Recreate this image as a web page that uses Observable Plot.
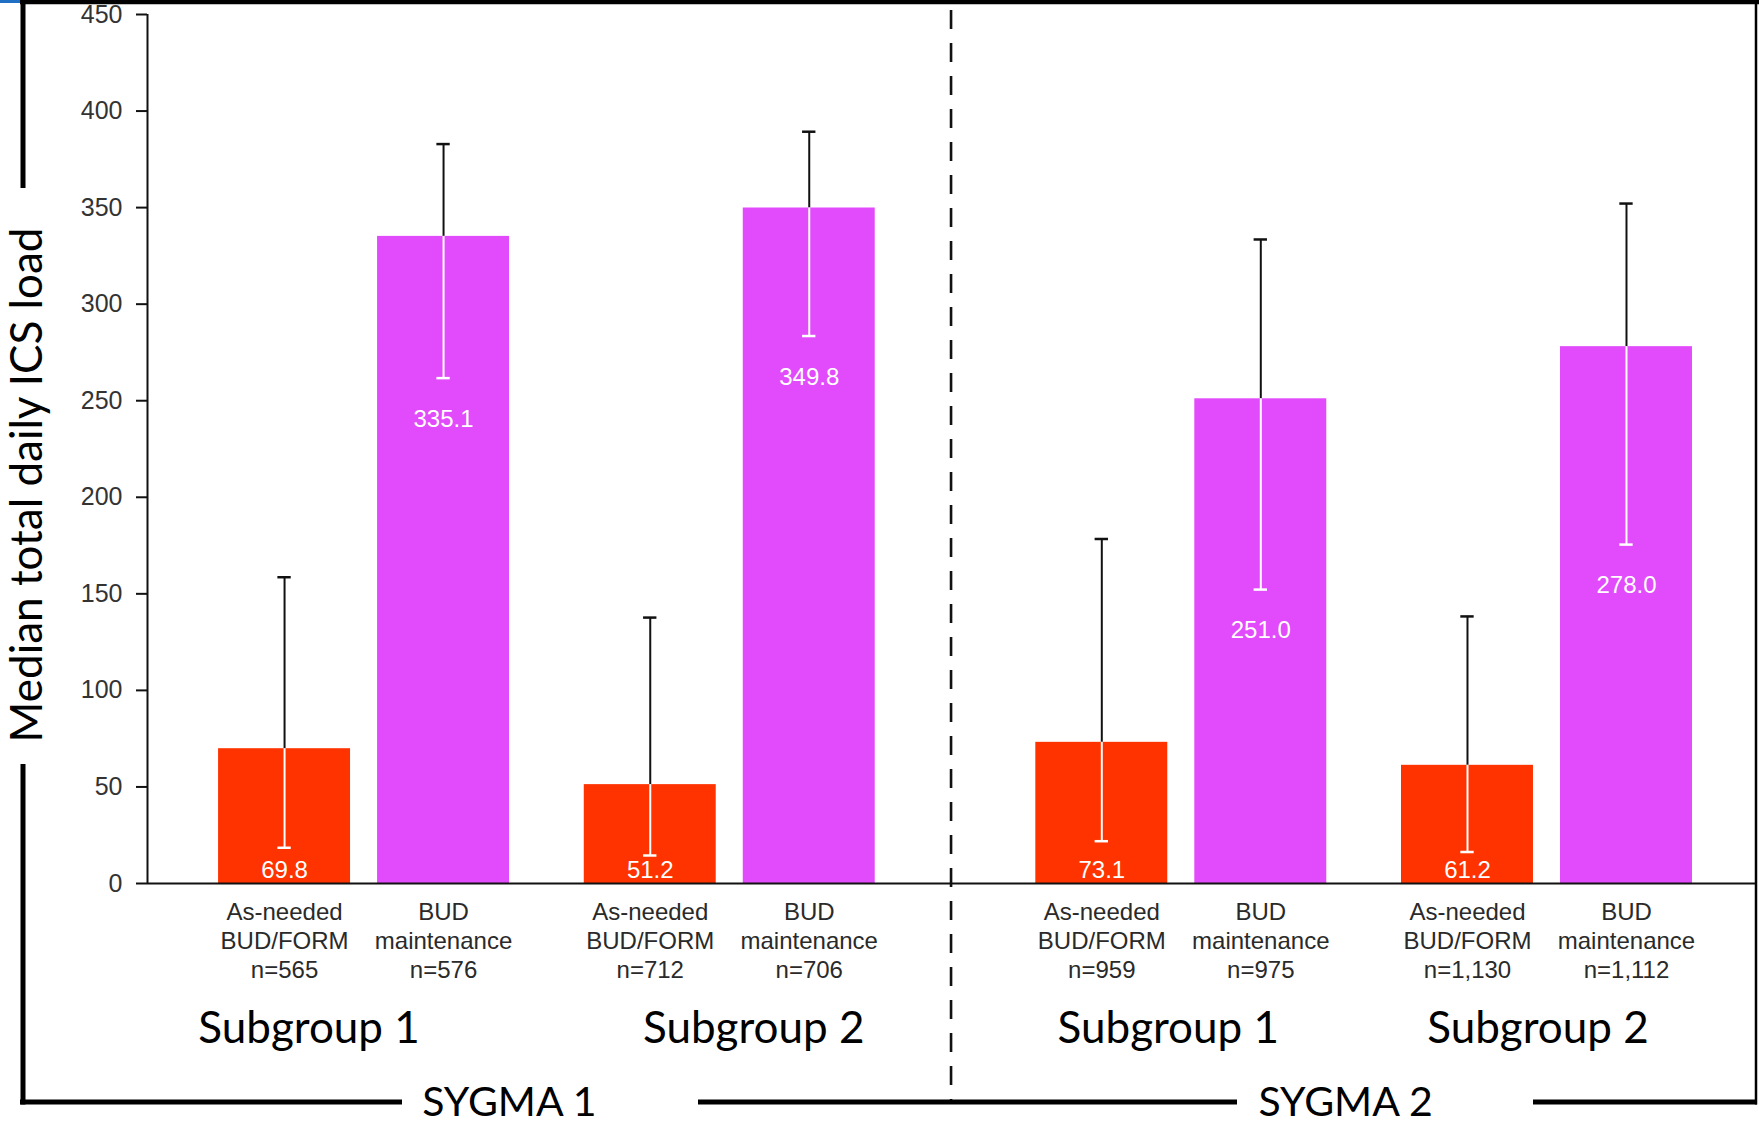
<!DOCTYPE html>
<html>
<head>
<meta charset="utf-8">
<script src="https://cdn.jsdelivr.net/npm/d3@7"></script>
<script src="https://cdn.jsdelivr.net/npm/@observablehq/plot@0.6"></script>
<style>
  html, body { margin: 0; padding: 0; background: #fff; }
  #chart svg { display: block; }
</style>
</head>
<body>
<div id="chart"></div>
<script>
// ---------- data ----------
const categoryLabels = [
  "As-needed\nBUD/FORM\nn=565", "BUD\nmaintenance\nn=576",
  "As-needed\nBUD/FORM\nn=712", "BUD\nmaintenance\nn=706",
  "As-needed\nBUD/FORM\nn=959", "BUD\nmaintenance\nn=975",
  "As-needed\nBUD/FORM\nn=1,130", "BUD\nmaintenance\nn=1,112"
];
const treatments = ["As-needed BUD/FORM", "BUD maintenance"];
const treatmentOf = ["As-needed BUD/FORM", "BUD maintenance", "As-needed BUD/FORM", "BUD maintenance",
                     "As-needed BUD/FORM", "BUD maintenance", "As-needed BUD/FORM", "BUD maintenance"];
const values = [69.8, 335.1, 51.2, 349.8, 73.1, 251.0, 61.2, 278.0];
const upper  = [158.6, 382.9, 137.7, 389.3, 178.4, 333.5, 138.3, 352.1];
const lower  = [18.5, 261.7, 14.5, 283.5, 21.9, 152.2, 16.3, 175.5];
const subgroupLabels = ["Subgroup 1", "Subgroup 2", "Subgroup 1", "Subgroup 2"];
const studyLabels = ["SYGMA 1", "SYGMA 2"];
const yTicks = [0, 50, 100, 150, 200, 250, 300, 350, 400, 450];
const yTitle = "Median total daily ICS load";

// ---------- layout (structure-derived positions) ----------
const gapPair = 0.30, gapStudy = 0.84, halfBar = 0.415, capHalf = 0.042;
const pos = categoryLabels.map((_, i) => i + Math.floor(i / 2) * gapPair + Math.floor(i / 4) * (gapStudy - gapPair));
const data = categoryLabels.map((c, i) => ({
  label: c, treatment: treatmentOf[i], value: values[i], hi: upper[i], lo: lower[i], pos: pos[i]
}));
const pairs = subgroupLabels.map((s, k) => ({ label: s, pos: (pos[2 * k] + pos[2 * k + 1]) / 2 }));
const studies = studyLabels.map((s, k) => ({ label: s, pos: (pos[4 * k] + pos[4 * k + 3]) / 2 }));
const subgroupDx = [-55, 24, -13, -9];
const studyDx = [-37, -18];
const divider = (pos[3] + pos[4]) / 2 - 0.025;

const W = 1759, H = 1124;
const sans = "'Liberation Sans', Arial, Helvetica, sans-serif";
const calib = "Lato, 'Open Sans', sans-serif";
const xDomain = [-0.862, 9.264];

const chart = Plot.plot({
  width: W, height: H,
  marginLeft: 147, marginRight: 2, marginTop: 14, marginBottom: 241,
  style: { fontFamily: sans, background: "white", overflow: "visible" },
  x: { type: "linear", domain: xDomain, axis: null },
  y: { domain: [0, 450], axis: null },
  color: { domain: treatments, range: ["#FF3300", "#E24BFB"] },
  marks: [
    Plot.rectY(data, { x1: d => d.pos - halfBar, x2: d => d.pos + halfBar, y: "value", fill: "treatment" }),
    // error bars
    Plot.ruleX(data, { x: "pos", y1: "value", y2: "hi", stroke: "#111", strokeWidth: 2 }),
    Plot.ruleX(data, { x: "pos", y1: "lo", y2: "value", stroke: "white", strokeWidth: 2 }),
    Plot.ruleY(data, { y: "hi", x1: d => d.pos - capHalf, x2: d => d.pos + capHalf, stroke: "#111", strokeWidth: 2.5 }),
    Plot.ruleY(data, { y: "lo", x1: d => d.pos - capHalf, x2: d => d.pos + capHalf, stroke: "white", strokeWidth: 2.5 }),
    // value labels
    Plot.text(data.filter(d => d.value > 150), {
      x: "pos", y: "lo", text: d => d.value.toFixed(1), fill: "white",
      fontSize: 24, dy: 41, lineAnchor: "middle"
    }),
    Plot.text(data.filter(d => d.value <= 150), {
      x: "pos", y: 0, text: d => d.value.toFixed(1), fill: "white",
      fontSize: 24, dy: -13, lineAnchor: "middle"
    }),
    // axes
    Plot.ruleY([0], { stroke: "#111", strokeWidth: 2 }),
    Plot.ruleX([xDomain[0]], { y1: 0, y2: 450, stroke: "#111", strokeWidth: 2 }),
    Plot.axisY(yTicks, {
      tickSize: 11, tickPadding: 14, fontSize: 25, stroke: "#111", strokeWidth: 2,
      color: "#333", label: null, tickFormat: d => String(d)
    }),
    // category labels
    Plot.text(data, {
      x: "pos", y: 0, text: "label", fill: "#2a2a2a", fontSize: 24,
      lineAnchor: "top", lineHeight: 1.21, dy: 16
    }),
    // subgroup labels
    ...pairs.map((p, k) => Plot.text([p], {
      x: "pos", y: 0, text: "label", fill: "#000", fontSize: 44, fontFamily: calib,
      dy: 145, dx: subgroupDx[k], lineAnchor: "middle"
    })),
    // y title
    Plot.text([yTitle], {
      frameAnchor: "left", text: d => d, rotate: -90, dx: -120, dy: 36,
      textAnchor: "middle", fontSize: 44, fontFamily: calib, fill: "#000", lineAnchor: "middle"
    })
  ]
});

document.getElementById("chart").appendChild(chart);

const svg = d3.select(chart);
const xs = chart.scale("x"), ys = chart.scale("y");

const deco = svg.append("g").attr("class", "decor");
const y0 = ys.apply(0);
const bottomY = y0 + 219;
// dashed divider
deco.append("line")
  .attr("x1", xs.apply(divider)).attr("x2", xs.apply(divider))
  .attr("y1", 10).attr("y2", bottomY)
  .attr("stroke", "#111").attr("stroke-width", 2.6).attr("stroke-dasharray", "19,14");
// study labels on bottom line
studies.forEach((s, k) => {
  deco.append("text")
    .attr("x", xs.apply(s.pos) + studyDx[k]).attr("y", bottomY)
    .attr("dy", "0.35em")
    .attr("text-anchor", "middle")
    .attr("font-family", calib).attr("font-size", 41).attr("fill", "#000")
    .text(s.label);
});
// frame
const seg = (x1, y1, x2, y2, w) => deco.append("line")
  .attr("x1", x1).attr("y1", y1).attr("x2", x2).attr("y2", y2)
  .attr("stroke", "#000").attr("stroke-width", w);
seg(20, 2, W, 2, 4.5);
seg(23, 0, 23, 188, 5);
seg(23, 764, 23, bottomY + 2.5, 5);
seg(20, bottomY, 402, bottomY, 5);
seg(698, bottomY, 1237, bottomY, 5);
seg(1533, bottomY, 1757, bottomY, 5);
seg(1756, 0, 1756, bottomY + 2.5, 2.5);
deco.append("rect").attr("x", 0).attr("y", 0).attr("width", 20).attr("height", 3).attr("fill", "#1f6fc5");
</script>
</body>
</html>
